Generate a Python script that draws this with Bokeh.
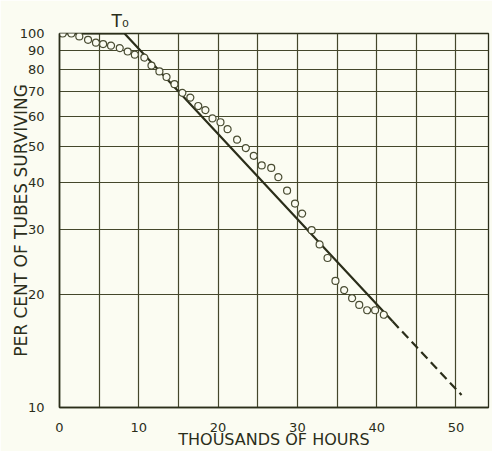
from bokeh.plotting import figure
from bokeh.models import FixedTicker, Grid, CustomJSTickFormatter
from bokeh.embed import file_html
from bokeh.resources import INLINE

# Observed survival data (thousands of hours, per cent surviving)
hours = [0.4, 1.5, 2.5, 3.6, 4.6, 5.5, 6.5, 7.6, 8.6, 9.5, 10.7, 11.6, 12.6, 13.5,
         14.5, 15.5, 16.5, 17.5, 18.4, 19.3, 20.3, 21.2, 22.4, 23.5, 24.5, 25.5,
         26.7, 27.6, 28.7, 29.7, 30.6, 31.8, 32.8, 33.8, 34.8, 35.9, 36.9, 37.8,
         38.8, 39.8, 40.9]
surviving = [100, 100, 98.2, 96.2, 94.5, 93.7, 92.8, 91.4, 89.5, 87.8, 86.2, 82.1,
             79.2, 76.5, 73.2, 69.4, 67.4, 64.0, 62.4, 59.3, 57.9, 55.5, 52.0, 49.4,
             47.1, 44.4, 43.7, 41.3, 38.0, 35.1, 33.0, 29.8, 27.3, 25.1, 21.8, 20.6,
             19.6, 18.8, 18.2, 18.2, 17.7]

# Fitted exponential line (solid) and its extrapolation (dashed)
fit_x = [0, 8.2, 42.0]
fit_y = [100, 100, 17.0]
ext_x = [42.0, 50.7]
ext_y = [17.0, 10.8]

x_ticks = [0, 10, 20, 30, 40, 50]
x_grid = [5, 10, 15, 20, 25, 30, 35, 40, 45, 50]
y_ticks = [10, 20, 30, 40, 50, 60, 70, 80, 90, 100]

BG = "#fbfcf2"
INK = "#2b2e1a"
GRID = "#44472b"
FONT = "DejaVu Sans"

p = figure(width=492, height=451, y_axis_type="log",
           x_range=(0, 54.1), y_range=(10, 100),
           output_backend="svg", toolbar_location=None,
           background_fill_color=BG, border_fill_color=BG,
           min_border_left=59, min_border_right=4,
           min_border_top=33, min_border_bottom=43)

p.title.text = "T\u2080"
p.title.align = "left"
p.title.offset = 52
p.title.text_font = FONT
p.title.text_font_size = "17px"
p.title.text_font_style = "normal"
p.title.text_color = INK
p.title.standoff = 6

p.outline_line_color = INK
p.outline_line_width = 1.3

p.xgrid.visible = False
p.ygrid.visible = False
p.add_layout(Grid(dimension=0, ticker=FixedTicker(ticks=x_grid),
                  grid_line_color=GRID, grid_line_width=1.2))
p.add_layout(Grid(dimension=1, ticker=FixedTicker(ticks=y_ticks),
                  grid_line_color=GRID, grid_line_width=1.2))

p.xaxis.ticker = FixedTicker(ticks=x_ticks)
p.yaxis.ticker = FixedTicker(ticks=y_ticks)
p.yaxis.formatter = CustomJSTickFormatter(code="return Math.round(tick).toString();")
for ax in (p.xaxis, p.yaxis):
    ax.axis_line_color = INK
    ax.axis_line_width = 1.6
    ax.major_tick_line_color = None
    ax.minor_tick_line_color = None
    ax.major_label_text_font = FONT
    ax.major_label_text_font_size = "13px"
    ax.major_label_text_color = INK
    ax.axis_label_text_font = FONT
    ax.axis_label_text_font_style = "normal"
    ax.axis_label_text_color = INK
p.xaxis.axis_label_text_font_size = "16px"
p.yaxis.axis_label_text_font_size = "17px"
p.xaxis.major_label_standoff = 9
p.yaxis.major_label_standoff = 9
p.xaxis.axis_label = "THOUSANDS OF HOURS"
p.yaxis.axis_label = "PER CENT OF TUBES SURVIVING"
p.xaxis.axis_label_standoff = -5
p.yaxis.axis_label_standoff = -14

p.line(fit_x, fit_y, line_color=INK, line_width=2.2)
p.line(ext_x, ext_y, line_color=INK, line_width=2.2, line_dash="9 5")
p.scatter(hours, surviving, size=7, marker="circle", fill_color=BG,
          line_color="#4a4d33", line_width=1.2)

open("out.html", "w").write(file_html(p, INLINE))
